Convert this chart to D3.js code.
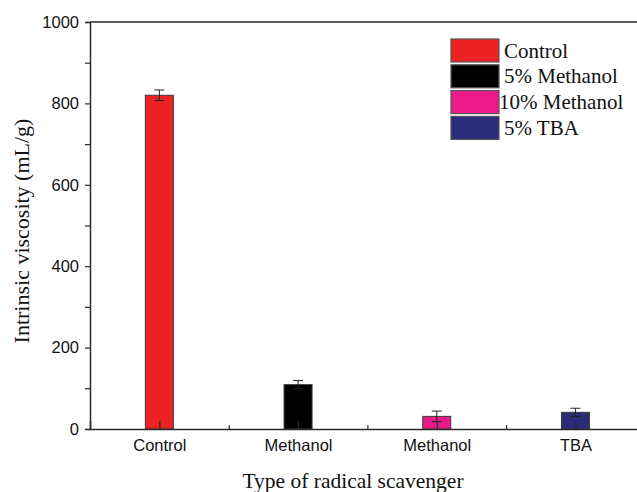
<!DOCTYPE html>
<html>
<head>
<meta charset="utf-8">
<script src="https://cdn.jsdelivr.net/npm/d3@7"></script>
<style>
  html, body { margin: 0; padding: 0; background: #fff; overflow: hidden; }
  svg { display: block; }
</style>
</head>
<body>
<svg id="chart" width="637" height="492"></svg>
<script>
// ---- data ----
const categories = ["Control", "Methanol", "Methanol", "TBA"];
const seriesNames = ["Control", "5% Methanol", "10% Methanol", "5% TBA"];
const values = [820, 109, 31, 41];
const errors = [13, 10, 13, 10];
const colors = ["#ED2224", "#000000", "#EC198B", "#2B2C7B"];
const yTicks = [0, 200, 400, 600, 800, 1000];
const yMinorTicks = [100, 300, 500, 700, 900];
const xMinorTicks = [1.5, 2.5, 3.5];

// ---- layout ----
const svg = d3.select("#chart");
const mLeft = 90, mTop = 22, mBottom = 429;
const step = 138.7;
const mRight = mLeft + step * 4;

const x = d3.scaleLinear().domain([0.5, 4.5]).range([mLeft, mRight]);
const y = d3.scaleLinear().domain([0, 1000]).range([mBottom, mTop]);
const barW = 28;
const axisColor = "#2a2a2a";

// bars
const idx = d3.range(categories.length);
svg.append("g").selectAll("rect").data(idx).join("rect")
  .attr("x", i => x(i + 1) - barW / 2)
  .attr("y", i => y(values[i]))
  .attr("width", barW)
  .attr("height", i => y(0) - y(values[i]))
  .attr("fill", i => colors[i])
  .attr("stroke", "#3a3a3a")
  .attr("stroke-width", 1);

// error bars
const eb = svg.append("g").attr("stroke", "#222").attr("stroke-width", 1).attr("fill", "none");
idx.forEach(i => {
  const cx = x(i + 1);
  const hi = y(values[i] + errors[i]), lo = y(values[i] - errors[i]);
  eb.append("line").attr("x1", cx).attr("x2", cx).attr("y1", hi).attr("y2", lo);
  eb.append("line").attr("x1", cx - 5).attr("x2", cx + 5).attr("y1", hi).attr("y2", hi);
  eb.append("line").attr("x1", cx - 5).attr("x2", cx + 5).attr("y1", lo).attr("y2", lo);
});

// top frame line
svg.append("line").attr("x1", mLeft).attr("x2", mRight).attr("y1", mTop).attr("y2", mTop)
  .attr("stroke", axisColor).attr("stroke-width", 1.5);

// y axis
const yAxis = svg.append("g").attr("transform", `translate(${mLeft},0)`)
  .call(d3.axisLeft(y).tickValues(yTicks).tickSize(5).tickPadding(6).tickFormat(d3.format("d")));
yAxis.select(".domain").attr("stroke", axisColor).attr("stroke-width", 1.5);
yAxis.selectAll(".tick line").attr("stroke", axisColor).attr("stroke-width", 1.2);
yAxis.selectAll(".tick text").attr("font-family", "Liberation Sans, Arial, sans-serif")
  .attr("font-size", 16.5).attr("fill", "#111");
svg.append("g").attr("transform", `translate(${mLeft},0)`)
  .call(d3.axisLeft(y).tickValues(yMinorTicks).tickSize(5).tickFormat(""))
  .call(g => g.select(".domain").remove())
  .selectAll(".tick line").attr("stroke", axisColor).attr("stroke-width", 1.2);

// x axis (inward ticks)
const xAxis = svg.append("g").attr("transform", `translate(0,${mBottom})`)
  .call(d3.axisBottom(x).tickValues([1, 2, 3, 4]).tickSize(-8).tickPadding(10)
    .tickFormat((d) => categories[d - 1]));
xAxis.select(".domain").attr("stroke", axisColor).attr("stroke-width", 1.5);
xAxis.selectAll(".tick line").attr("stroke", axisColor).attr("stroke-width", 1.2);
xAxis.selectAll(".tick text").attr("font-family", "Liberation Sans, Arial, sans-serif")
  .attr("font-size", 16.5).attr("fill", "#111");
svg.append("g").attr("transform", `translate(0,${mBottom})`)
  .call(d3.axisBottom(x).tickValues(xMinorTicks).tickSize(-4).tickFormat(""))
  .call(g => g.select(".domain").remove())
  .selectAll(".tick line").attr("stroke", axisColor).attr("stroke-width", 1.2);

// axis titles
svg.append("text")
  .attr("x", 353).attr("y", 488)
  .attr("text-anchor", "middle")
  .attr("font-family", "Liberation Serif, Times New Roman, serif")
  .attr("font-size", 21.5).attr("fill", "#111")
  .text("Type of radical scavenger");

svg.append("text")
  .attr("transform", "translate(29,231) rotate(-90)")
  .attr("text-anchor", "middle")
  .attr("font-family", "Liberation Serif, Times New Roman, serif")
  .attr("font-size", 22).attr("fill", "#111")
  .text("Intrinsic viscosity (mL/g)");

// legend
const lg = svg.append("g").attr("transform", "translate(451,39)");
const rowH = 25.8;
seriesNames.forEach((name, i) => {
  const row = lg.append("g").attr("transform", `translate(0,${i * rowH})`);
  row.append("rect").attr("width", 48).attr("height", 23)
    .attr("fill", colors[i]).attr("stroke", "#555").attr("stroke-width", 1.2);
  row.append("text").attr("x", name.startsWith("10") ? 48 : 53).attr("y", 18.5)
    .attr("font-family", "Liberation Serif, Times New Roman, serif")
    .attr("font-size", 21).attr("fill", "#111")
    .text(name);
});
</script>
</body>
</html>
